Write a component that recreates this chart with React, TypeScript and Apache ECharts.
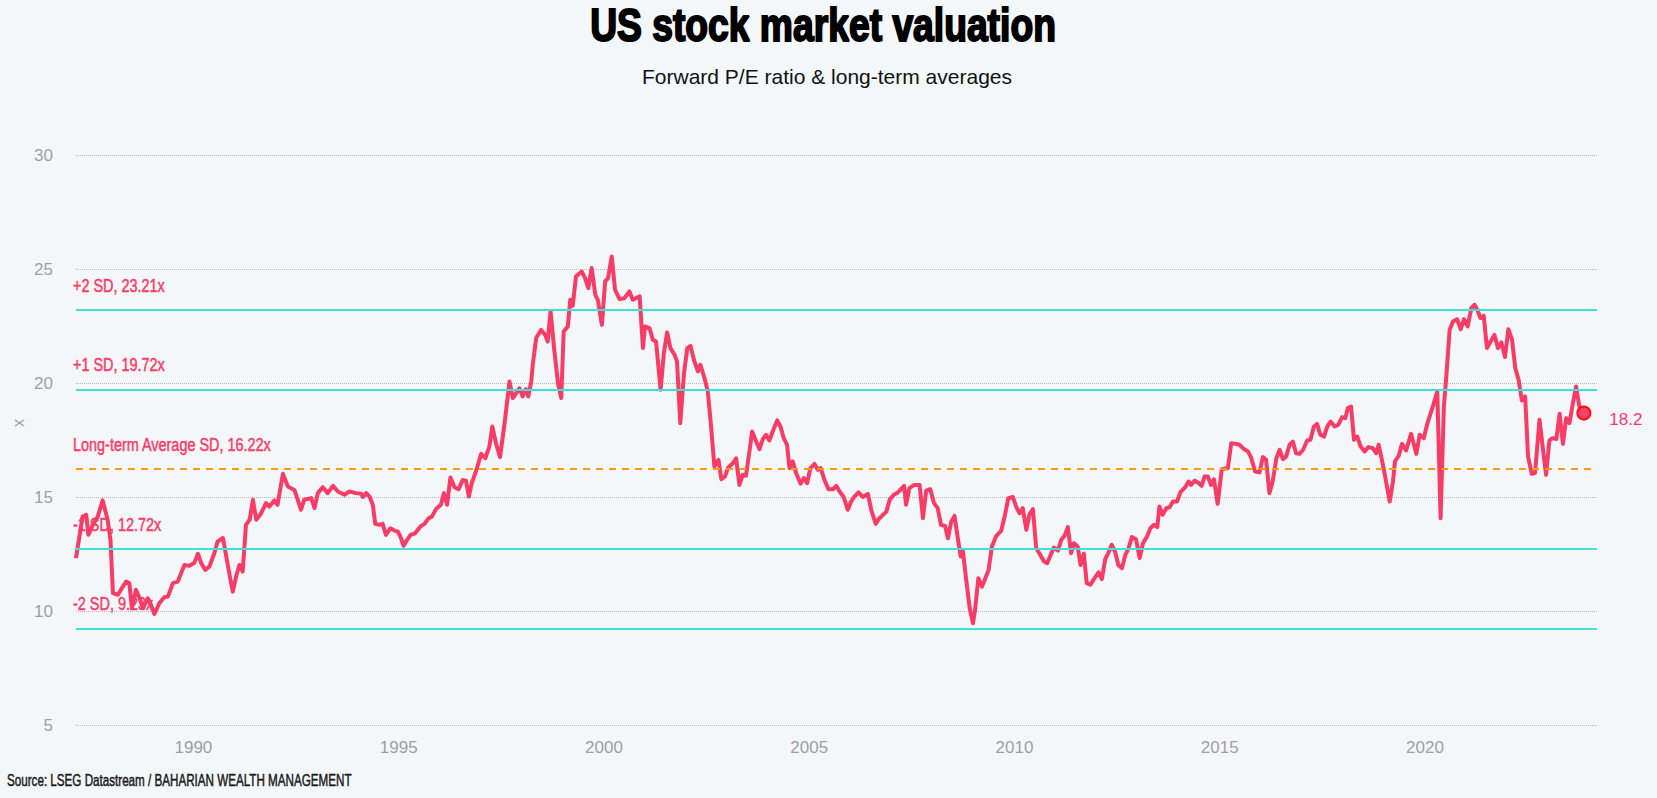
import React, { useEffect, useRef } from "react";
import * as echarts from "echarts";

const TITLE = "US stock market valuation";
const SUBTITLE = "Forward P/E ratio & long-term averages";
const SOURCE = "Source: LSEG Datastream / BAHARIAN WEALTH MANAGEMENT";
const Y_NAME = "x";

const yearTicks = [1990, 1995, 2000, 2005, 2010, 2015, 2020];
const X_MIN = 1987.14;
const X_MAX = 2024.19;
const Y_MIN = 5;
const Y_MAX = 30;
const Y_STEP = 5;

const bandLabels = ["+2 SD, 23.21x", "+1 SD, 19.72x", "Long-term Average SD, 16.22x", "-1 SD, 12.72x", "-2 SD, 9.23x"];
const bandValues = [23.21, 19.72, 16.22, 12.72, 9.23];
const bandKinds = ["sd", "sd", "avg", "sd", "sd"];
const latestLabel = "18.2";

// Forward P/E readings: [decimal year, P/E]
const pe1987_1993: [number, number][] = [
  [1987.14, 12.32], [1987.3, 14.14], [1987.39, 14.22], [1987.44, 13.34], [1987.55, 13.78], [1987.67, 14.14],
  [1987.79, 14.85], [1987.91, 14.0], [1987.98, 13.12], [1988.04, 10.78], [1988.16, 10.71], [1988.28, 11.07],
  [1988.36, 11.29], [1988.44, 11.22], [1988.5, 10.12], [1988.6, 10.93], [1988.69, 10.56], [1988.77, 10.12],
  [1988.89, 10.56], [1988.95, 10.34], [1989.05, 9.87], [1989.17, 10.34], [1989.29, 10.6], [1989.38, 10.63],
  [1989.5, 11.22], [1989.62, 11.29], [1989.78, 12.02], [1989.9, 11.98], [1990.02, 12.1], [1990.11, 12.51],
  [1990.19, 12.1], [1990.29, 11.8], [1990.39, 11.95], [1990.51, 12.53], [1990.59, 13.05], [1990.72, 13.2],
  [1990.8, 12.39], [1990.88, 11.59], [1990.96, 10.85], [1991.04, 11.51], [1991.12, 12.02], [1991.2, 11.73],
  [1991.28, 13.78], [1991.37, 14.0], [1991.45, 14.88], [1991.53, 14.0], [1991.65, 14.29], [1991.77, 14.73],
  [1991.85, 14.58], [1991.97, 14.85], [1992.05, 14.66], [1992.18, 16.02], [1992.3, 15.46], [1992.46, 15.31],
  [1992.54, 14.88], [1992.62, 14.44], [1992.7, 14.88], [1992.87, 14.95], [1992.95, 14.51], [1993.03, 15.17],
  [1993.15, 15.43], [1993.27, 15.17], [1993.4, 15.49], [1993.52, 15.24], [1993.68, 15.1],
];

const pe1993_2000: [number, number][] = [
  [1993.8, 15.24], [1993.96, 15.17], [1994.09, 15.14], [1994.13, 15.0], [1994.21, 15.17], [1994.29, 15.02],
  [1994.37, 14.66], [1994.43, 13.82], [1994.53, 13.78], [1994.61, 13.82], [1994.69, 13.34], [1994.8, 13.63],
  [1994.9, 13.53], [1994.98, 13.48], [1995.04, 13.27], [1995.12, 12.86], [1995.18, 13.05], [1995.29, 13.34],
  [1995.4, 13.41], [1995.53, 13.71], [1995.63, 13.82], [1995.73, 14.07], [1995.81, 14.14], [1995.91, 14.47],
  [1996.03, 14.66], [1996.1, 15.17], [1996.18, 14.66], [1996.26, 15.86], [1996.36, 15.43], [1996.46, 15.34],
  [1996.56, 15.75], [1996.64, 15.72], [1996.71, 15.02], [1996.78, 15.61], [1996.89, 16.16], [1997.01, 16.89],
  [1997.11, 16.7], [1997.21, 17.22], [1997.28, 18.09], [1997.37, 17.36], [1997.47, 16.75], [1997.58, 18.24],
  [1997.7, 20.07], [1997.78, 19.34], [1997.86, 19.55], [1997.94, 19.77], [1998.02, 19.41], [1998.1, 19.73],
  [1998.16, 19.41], [1998.23, 20.07], [1998.27, 20.87], [1998.35, 21.97], [1998.47, 22.33], [1998.57, 22.11],
  [1998.63, 21.82], [1998.7, 23.14], [1998.79, 21.46], [1998.88, 19.99], [1998.96, 19.34], [1999.02, 22.26],
  [1999.12, 22.48], [1999.18, 23.65], [1999.24, 23.39], [1999.32, 24.68], [1999.46, 24.89], [1999.54, 24.6],
  [1999.62, 24.16], [1999.7, 25.04], [1999.79, 23.87], [1999.85, 23.65], [1999.95, 22.55], [2000.03, 24.46],
  [2000.1, 24.6], [2000.19, 25.55], [2000.27, 24.09], [2000.38, 23.68], [2000.5, 23.72], [2000.62, 24.02],
  [2000.7, 23.65], [2000.87, 23.8], [2000.95, 21.53],
];

const pe2001_2007: [number, number][] = [
  [2001.0, 22.48], [2001.11, 22.41], [2001.19, 21.9], [2001.27, 21.82], [2001.38, 19.7], [2001.46, 21.31],
  [2001.54, 22.22], [2001.62, 21.53], [2001.72, 21.24], [2001.78, 20.95], [2001.86, 18.24], [2001.95, 20.43],
  [2002.03, 21.53], [2002.11, 21.63], [2002.19, 21.02], [2002.29, 20.51], [2002.35, 20.8], [2002.45, 20.21],
  [2002.53, 19.63], [2002.61, 18.09], [2002.69, 16.34], [2002.79, 16.63], [2002.86, 15.78], [2002.95, 15.9],
  [2003.02, 16.27], [2003.14, 16.48], [2003.22, 16.7], [2003.3, 15.53], [2003.38, 15.97], [2003.46, 15.93],
  [2003.55, 17.07], [2003.61, 17.87], [2003.71, 17.43], [2003.79, 17.1], [2003.87, 17.54], [2003.95, 17.73],
  [2004.03, 17.48], [2004.11, 17.87], [2004.22, 18.36], [2004.3, 18.09], [2004.38, 17.58], [2004.46, 17.29],
  [2004.52, 16.27], [2004.6, 16.56], [2004.68, 16.05], [2004.79, 15.58], [2004.87, 15.83], [2004.95, 15.61],
  [2005.03, 16.27], [2005.13, 16.45], [2005.21, 16.19], [2005.28, 16.27], [2005.37, 15.75], [2005.47, 15.34],
  [2005.58, 15.34], [2005.66, 15.49], [2005.74, 15.24], [2005.84, 15.0], [2005.94, 14.44], [2006.02, 14.8],
  [2006.1, 15.02], [2006.2, 15.2], [2006.31, 15.0], [2006.43, 15.14], [2006.51, 14.44], [2006.62, 13.82],
  [2006.71, 14.07], [2006.88, 14.36], [2006.96, 14.88], [2007.06, 15.1], [2007.16, 15.2], [2007.31, 15.49],
  [2007.36, 14.66], [2007.44, 15.39], [2007.56, 15.53], [2007.69, 15.53], [2007.77, 14.07], [2007.85, 15.28],
  [2007.95, 15.34],
];

const pe2008_2014: [number, number][] = [
  [2008.04, 14.73], [2008.13, 14.51], [2008.21, 13.78], [2008.31, 13.73], [2008.38, 13.19], [2008.46, 13.92],
  [2008.54, 14.17], [2008.62, 13.19], [2008.69, 12.39], [2008.74, 12.68], [2008.82, 11.44], [2008.91, 10.12],
  [2008.99, 9.46], [2009.04, 10.05], [2009.12, 11.44], [2009.21, 11.07], [2009.29, 11.44], [2009.37, 11.8],
  [2009.45, 12.83], [2009.55, 13.27], [2009.68, 13.53], [2009.77, 14.22], [2009.85, 14.95], [2009.96, 15.0],
  [2010.04, 14.58], [2010.12, 14.29], [2010.2, 14.51], [2010.29, 13.56], [2010.37, 14.26], [2010.45, 14.47],
  [2010.53, 12.75], [2010.63, 12.46], [2010.72, 12.17], [2010.8, 12.1], [2010.88, 12.46], [2010.96, 12.78],
  [2011.06, 12.65], [2011.14, 13.12], [2011.22, 13.3], [2011.3, 13.68], [2011.38, 12.53], [2011.45, 12.97],
  [2011.54, 12.83], [2011.61, 12.02], [2011.69, 12.51], [2011.76, 11.22], [2011.85, 11.15], [2011.95, 11.44],
  [2012.05, 11.69], [2012.13, 11.4], [2012.21, 12.27], [2012.29, 12.56], [2012.37, 12.9], [2012.45, 12.61],
  [2012.53, 12.02], [2012.62, 11.88], [2012.7, 12.46], [2012.78, 12.75], [2012.86, 13.24], [2012.96, 13.15],
  [2013.05, 12.32], [2013.13, 12.97], [2013.23, 13.27], [2013.31, 13.63], [2013.4, 13.78], [2013.48, 13.68],
  [2013.53, 14.58], [2013.61, 14.22], [2013.7, 14.51], [2013.78, 14.55], [2013.86, 14.8], [2013.96, 14.8],
  [2014.04, 15.2],
];

const pe2014_2019: [number, number][] = [
  [2014.16, 15.43], [2014.24, 15.68], [2014.3, 15.53], [2014.39, 15.72], [2014.51, 15.58], [2014.56, 15.49],
  [2014.63, 15.9], [2014.71, 15.9], [2014.79, 15.53], [2014.86, 15.78], [2014.95, 14.7], [2015.05, 16.22],
  [2015.2, 16.27], [2015.28, 17.36], [2015.4, 17.33], [2015.48, 17.29], [2015.59, 17.1], [2015.69, 17.0],
  [2015.77, 16.7], [2015.86, 16.12], [2015.97, 16.08], [2016.05, 16.75], [2016.13, 16.63], [2016.21, 15.17],
  [2016.29, 15.68], [2016.38, 16.7], [2016.46, 17.07], [2016.54, 16.66], [2016.62, 16.78], [2016.7, 17.29],
  [2016.78, 17.43], [2016.86, 16.92], [2016.94, 16.89], [2017.03, 17.07], [2017.13, 17.48], [2017.21, 17.51],
  [2017.29, 18.07], [2017.37, 18.21], [2017.45, 17.73], [2017.54, 17.65], [2017.62, 18.09], [2017.7, 18.31],
  [2017.8, 18.09], [2017.89, 18.17], [2017.98, 18.5], [2018.06, 18.46], [2018.12, 18.9], [2018.2, 18.97],
  [2018.27, 17.51], [2018.35, 17.65], [2018.43, 17.22], [2018.53, 17.0], [2018.62, 17.19], [2018.73, 17.14],
  [2018.81, 16.92], [2018.87, 17.29], [2018.93, 16.81], [2019.03, 15.9], [2019.14, 14.8], [2019.22, 15.68],
  [2019.27, 16.56], [2019.36, 16.81], [2019.44, 17.33],
];

const pe2019_2023: [number, number][] = [
  [2019.54, 17.04], [2019.66, 17.77], [2019.79, 16.89], [2019.87, 17.73], [2019.97, 17.58], [2020.05, 18.17],
  [2020.19, 18.97], [2020.3, 19.63], [2020.38, 14.07], [2020.46, 18.97], [2020.52, 20.29], [2020.6, 22.33],
  [2020.68, 22.7], [2020.78, 22.8], [2020.87, 22.36], [2020.95, 22.8], [2021.04, 22.48], [2021.13, 23.29],
  [2021.21, 23.43], [2021.29, 23.14], [2021.35, 22.85], [2021.43, 22.95], [2021.51, 21.53], [2021.6, 21.82],
  [2021.69, 22.11], [2021.78, 21.53], [2021.86, 21.78], [2021.95, 21.14], [2022.03, 22.36], [2022.12, 21.9],
  [2022.2, 20.65], [2022.28, 20.14], [2022.36, 19.23], [2022.44, 19.41], [2022.51, 16.78], [2022.6, 16.02],
  [2022.68, 16.05], [2022.79, 18.39], [2022.87, 17.14], [2022.95, 15.97], [2023.03, 17.48], [2023.11, 17.58],
  [2023.2, 17.54], [2023.28, 18.65], [2023.36, 17.33], [2023.44, 18.46], [2023.52, 18.24], [2023.6, 19.09],
  [2023.68, 19.85], [2023.76, 18.97], [2023.87, 18.68],
];

const PINK = "#f83c66";
const TEAL = "#40e0d2";
const ORANGE = "#ff9a0a";
const GREY = "#9f9f9f";
const BG = "#f4f7fa";
const NARROW = "'Liberation Sans Narrow', 'Liberation Sans', sans-serif";
const SANS = "'Liberation Sans', Arial, sans-serif";

export default function App() {
  const ref = useRef<HTMLDivElement>(null);

  useEffect(() => {
    if (!ref.current) return;
    const chart = echarts.init(ref.current, undefined, { renderer: "svg" });
    const series = [...pe1987_1993, ...pe1993_2000, ...pe2001_2007, ...pe2008_2014, ...pe2014_2019, ...pe2019_2023];
    const last = series[series.length - 1];

    const option: any = {
      animation: false,
      backgroundColor: BG,
      grid: { left: 76, right: 60, top: 155, bottom: 73, containLabel: false },
      xAxis: {
        type: "value",
        min: X_MIN,
        max: X_MAX,
        axisLine: { show: false },
        axisTick: { show: false },
        splitLine: { show: false },
        axisLabel: {
          customValues: yearTicks,
          formatter: (v: number) => String(Math.round(v)),
          color: GREY,
          fontSize: 17,
          fontFamily: NARROW,
          margin: 14,
        },
      },
      yAxis: {
        type: "value",
        min: Y_MIN,
        max: Y_MAX,
        interval: Y_STEP,
        axisLine: { show: false },
        axisTick: { show: false },
        axisLabel: {
          color: GREY,
          fontSize: 17,
          fontFamily: NARROW,
          margin: 23,
          padding: [0, 0, 8, 0],
        },
        splitLine: { show: true, lineStyle: { color: "#b8b8b8", type: [1, 1], width: 1 } },
      },
      series: [
        {
          type: "line",
          data: series,
          showSymbol: false,
          symbol: "none",
          z: 2,
          lineStyle: { color: PINK, width: 4, join: "round" },
          markLine: {
            silent: true,
            symbol: ["none", "none"],
            label: { show: false },
            z: 5,
            data: bandValues.map((v, i) => ({
              yAxis: v,
              lineStyle:
                bandKinds[i] === "avg"
                  ? { color: ORANGE, width: 2.2, type: [7, 6] }
                  : { color: TEAL, width: 2.2, type: "solid" },
            })),
          },
          markPoint: {
            silent: true,
            symbol: "circle",
            symbolSize: 13,
            itemStyle: { color: "#f5416b", borderColor: "#ff1010", borderWidth: 2 },
            label: {
              show: true,
              position: "right",
              distance: 18,
              offset: [0, 6],
              formatter: () => latestLabel,
              color: PINK,
              fontSize: 17,
              fontFamily: NARROW,
            },
            data: [{ coord: last, value: latestLabel }],
          },
        },
      ],
    };
    chart.setOption(option);

    const labelGraphics = bandLabels.map((t, i) => {
      const py = chart.convertToPixel({ yAxisIndex: 0 }, bandValues[i]) as number;
      return {
        type: "text",
        z: 1,
        x: 73,
        y: py - 15,
        scaleX: 0.76,
        style: {
          text: t,
          fill: PINK,
          stroke: PINK,
          lineWidth: 0.5,
          fontSize: 19,
          fontFamily: SANS,
          textAlign: "left",
          align: "left",
          textVerticalAlign: "bottom",
          verticalAlign: "bottom",
        },
      };
    });

    chart.setOption({
      graphic: [
        {
          type: "text",
          x: 823,
          y: 25,
          scaleX: 0.81,
          style: {
            text: TITLE,
            fill: "#000",
            stroke: "#000",
            lineWidth: 2,
            fontSize: 46,
            fontWeight: "bold",
            fontFamily: SANS,
            textAlign: "center",
            align: "center",
            textVerticalAlign: "middle",
            verticalAlign: "middle",
          },
        },
        {
          type: "text",
          x: 827,
          y: 76,
          style: {
            text: SUBTITLE,
            fill: "#111",
            fontSize: 21,
            fontFamily: SANS,
            textAlign: "center",
            align: "center",
            textVerticalAlign: "middle",
            verticalAlign: "middle",
          },
        },
        {
          type: "text",
          x: 18,
          y: 423,
          rotation: Math.PI / 2,
          style: {
            text: Y_NAME,
            fill: GREY,
            fontSize: 16,
            fontFamily: SANS,
            textAlign: "center",
            align: "center",
            textVerticalAlign: "middle",
            verticalAlign: "middle",
          },
        },
        {
          type: "text",
          x: 7,
          y: 780,
          scaleX: 0.685,
          style: {
            text: SOURCE,
            fill: "#1a1a1a",
            stroke: "#1a1a1a",
            lineWidth: 0.5,
            fontSize: 17,
            fontFamily: SANS,
            textAlign: "left",
            align: "left",
            textVerticalAlign: "middle",
            verticalAlign: "middle",
          },
        },
        ...labelGraphics,
      ],
    });

    return () => chart.dispose();
  }, []);

  return (
    <div
      ref={ref}
      style={{ position: "fixed", left: 0, top: 0, width: 1657, height: 798, background: BG }}
    />
  );
}
